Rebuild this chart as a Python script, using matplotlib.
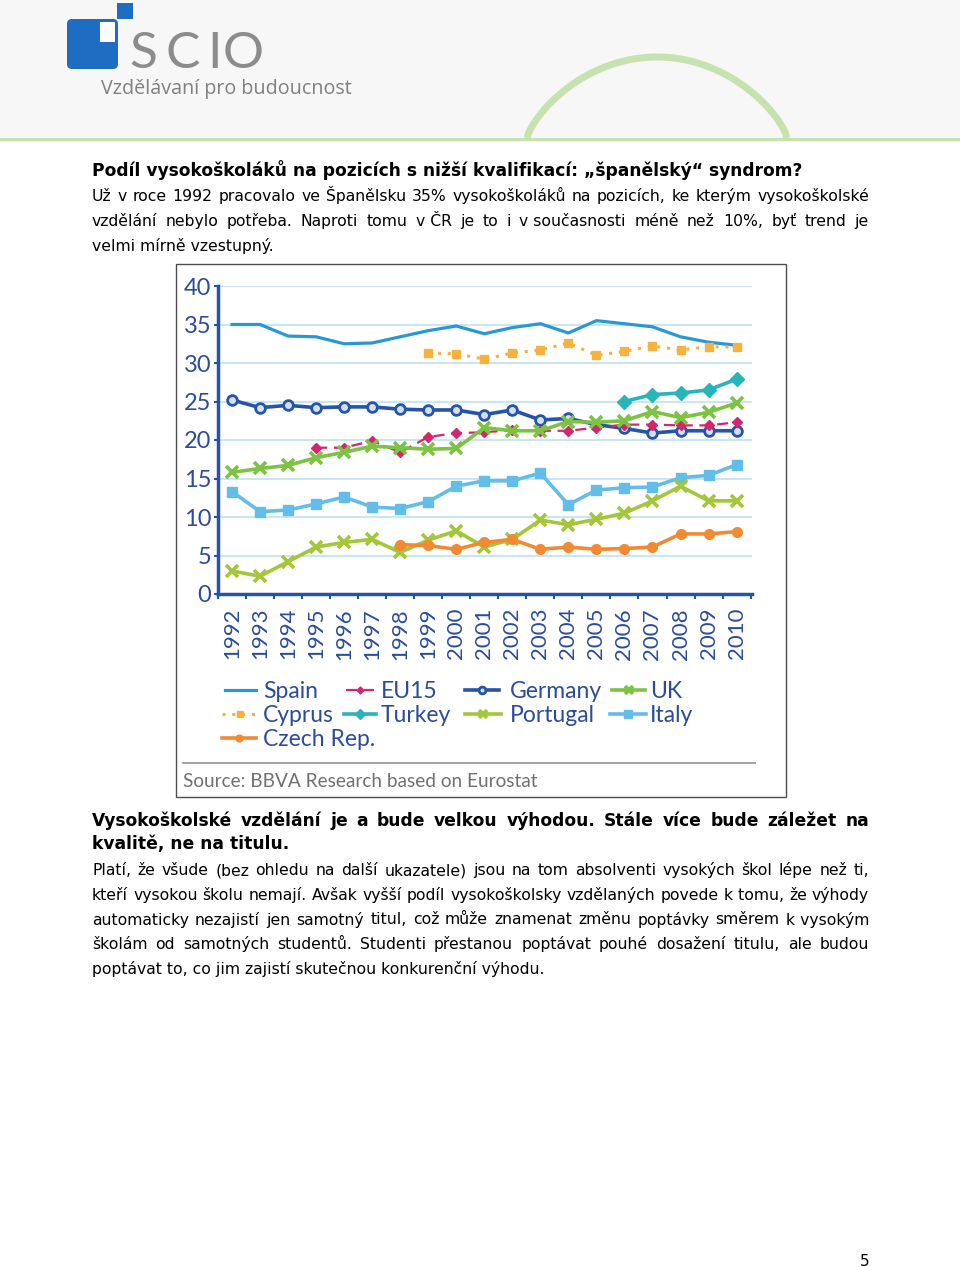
import matplotlib

matplotlib.use("Agg")
import matplotlib.pyplot as plt
import numpy as np
from matplotlib.patches import FancyBboxPatch, Rectangle

# ---- chart data (share of graduates in jobs below their qualification, %)
YEARS = list(range(1992, 2011))
YEAR_LABELS = [str(y) for y in YEARS]
Y_TICKS = [0, 5, 10, 15, 20, 25, 30, 35, 40]

SPAIN = [35.0, 35.0, 33.5, 33.4, 32.5, 32.6, 33.4, 34.2, 34.8, 33.8,
         34.6, 35.1, 33.9, 35.5, 35.1, 34.7, 33.4, 32.7, 32.3]
CYPRUS_YEARS = list(range(1999, 2011))
CYPRUS = [31.3, 31.2, 30.5, 31.3, 31.7, 32.6, 31.0, 31.5, 32.2, 31.7, 32.1, 32.1]
GERMANY = [25.2, 24.2, 24.5, 24.2, 24.3, 24.3, 24.0, 23.9, 23.9, 23.3,
           23.9, 22.6, 22.8, 22.0, 21.5, 20.9, 21.2, 21.2, 21.2]
EU15_YEARS = list(range(1995, 2011))
EU15 = [19.0, 19.0, 19.9, 18.4, 20.4, 20.9, 21.0, 21.3, 21.2, 21.2,
        21.6, 22.0, 22.0, 21.9, 21.9, 22.3]
UK = [15.8, 16.3, 16.7, 17.7, 18.4, 19.2, 19.0, 18.8, 18.9, 21.6,
      21.2, 21.2, 22.4, 22.3, 22.5, 23.7, 22.9, 23.6, 24.8]
TURKEY_YEARS = list(range(2006, 2011))
TURKEY = [25.0, 25.9, 26.1, 26.5, 27.9]
ITALY = [13.3, 10.7, 10.9, 11.7, 12.6, 11.3, 11.1, 12.0, 14.0, 14.7,
         14.7, 15.7, 11.6, 13.5, 13.8, 13.9, 15.1, 15.4, 16.8]
PORTUGAL = [3.0, 2.3, 4.2, 6.1, 6.7, 7.1, 5.4, 7.0, 8.2, 6.1,
            7.1, 9.6, 9.0, 9.7, 10.5, 12.1, 14.0, 12.1, 12.1]
CZECH_YEARS = list(range(1998, 2011))
CZECH = [6.4, 6.3, 5.8, 6.7, 7.1, 5.8, 6.1, 5.8, 5.9, 6.1, 7.8, 7.8, 8.1]

# ---- page text
TITLE = "Podíl vysokoškoláků na pozicích s nižší kvalifikací: „španělský“ syndrom?"
INTRO = [
    "Už v roce 1992 pracovalo ve Španělsku 35% vysokoškoláků na pozicích, ke kterým vysokoškolské",
    "vzdělání nebylo potřeba. Naproti tomu v\u00a0ČR je to i v\u00a0současnosti méně než 10%, byť trend je",
    "velmi mírně vzestupný.",
]
HEADING = [
    "Vysokoškolské vzdělání je a bude velkou výhodou. Stále více bude záležet na",
    "kvalitě, ne na titulu.",
]
BODY = [
    "Platí, že všude (bez ohledu na další ukazatele) jsou na tom absolventi vysokých škol lépe než ti,",
    "kteří vysokou školu nemají. Avšak vyšší podíl vysokoškolsky vzdělaných povede k\u00a0tomu, že výhody",
    "automaticky nezajistí jen samotný titul, což může znamenat změnu poptávky směrem k\u00a0vysokým",
    "školám od samotných studentů. Studenti přestanou poptávat pouhé dosažení titulu, ale budou",
    "poptávat to, co jim zajistí skutečnou konkurenční výhodu.",
]
SOURCE = "Source: BBVA Research based on Eurostat"

CHART_BLUE = "#2B4C9C"
SPINE_BLUE = "#2553A5"
GREEN_DECOR = "#C6E2AE"
LOGO_BLUE = "#1E6DC2"

STYLES = {
    "Spain": dict(color="#2A97D5", lw=2.3, ls="-", marker=None),
    "EU15": dict(color="#D4266F", lw=1.6, ls=(0, (5, 3)), marker="D", ms=5),
    "Germany": dict(color="#2654A6", lw=2.6, ls="-", marker="o", ms=7,
                    mfc="#D5DFF2", mew=2),
    "UK": dict(color="#7CC243", lw=2.6, ls="-", marker="x", ms=8, mew=2.6),
    "Cyprus": dict(color="#F5B23E", lw=2.2, ls=(0, (1, 2.2)), marker="s", ms=6),
    "Turkey": dict(color="#27B5B9", lw=2.6, ls="-", marker="D", ms=7.5),
    "Portugal": dict(color="#A4C639", lw=2.6, ls="-", marker="x", ms=8, mew=2.6),
    "Italy": dict(color="#63BDE9", lw=2.6, ls="-", marker="s", ms=7.5),
    "Czech Rep.": dict(color="#F28A33", lw=2.6, ls="-", marker="o", ms=7),
}

fig = plt.figure(figsize=(9.6, 12.67), dpi=100)

# background axes in pixel units, y growing downward
bg = fig.add_axes([0, 0, 1, 1], zorder=0)
bg.set_xlim(0, 960)
bg.set_ylim(1267, 0)
bg.axis("off")
renderer = fig.canvas.get_renderer()


def width_px(t):
    return t.get_window_extent(renderer).width


def fit_line(x0, x1, y, s, size, **kw):
    t = bg.text(x0, y, s, fontsize=size, va="baseline", **kw)
    t.set_fontsize(size * (x1 - x0) / width_px(t))
    return t.get_fontsize()


def justify_line(x0, x1, y, s, size, **kw):
    words = s.split(" ")
    texts = [bg.text(x0, y, w, fontsize=size, va="baseline", **kw) for w in words]
    widths = [width_px(t) for t in texts]
    gap = (x1 - x0 - sum(widths)) / (len(words) - 1)
    x = x0
    for t, w in zip(texts, widths):
        t.set_x(x)
        x += w + gap


# header
bg.add_patch(Rectangle((0, 0), 960, 137, color="#F7F7F7", lw=0))
bg.plot([0, 960], [138.5, 138.5], color=GREEN_DECOR, lw=2.5)
u = np.linspace(-1, 1, 160)
bg.plot(657 + 130 * u, 138 - 81 * (1 - u ** 2) ** 0.75, color=GREEN_DECOR, lw=5,
        solid_capstyle="butt")
bg.add_patch(FancyBboxPatch((67, 19), 51, 50, boxstyle="round,pad=0,rounding_size=5",
                            color=LOGO_BLUE, lw=0))
bg.add_patch(Rectangle((100, 22), 15, 20, color="white", lw=0))
bg.add_patch(Rectangle((117, 3), 16, 16, color=LOGO_BLUE, lw=0))
for letter, lx in zip("SCIO", [129, 166, 207, 223]):
    bg.text(lx, 68.5, letter, fontsize=37, family="Lato", color="#8C8C8C",
            va="baseline")
fit_line(101, 352, 94, "Vzdělávaní pro budoucnost", 13.5, family="Open Sans",
         color="#808080")

# text above the chart
bold_size = fit_line(92, 800, 176, TITLE, 12, family="DejaVu Sans", weight="bold")
tmp = bg.text(0, -100, BODY[-1], fontsize=11, family="DejaVu Sans")
body_size = 11 * 450 / width_px(tmp)
tmp.remove()

for y, line in zip([201, 226], INTRO[:2]):
    justify_line(92, 869, y, line, body_size, family="DejaVu Sans")
bg.text(92, 251, INTRO[2], fontsize=body_size, family="DejaVu Sans", va="baseline")

# chart frame, source
bg.add_patch(Rectangle((175.5, 263.5), 610, 533, fill=False, ec="#4D4D4D", lw=1))
bg.plot([183, 755], [763, 763], color="#9A9A9A", lw=1.3)
fit_line(183, 537, 787, SOURCE, 13, family="Lato", color="#707070")

# text below the chart
justify_line(92, 869, 826, HEADING[0], bold_size, family="DejaVu Sans", weight="bold")
bg.text(92, 849, HEADING[1], fontsize=bold_size, family="DejaVu Sans",
        weight="bold", va="baseline")
for i, line in enumerate(BODY):
    y = 875 + i * 24.75
    if i < len(BODY) - 1:
        justify_line(92, 869, y, line, body_size, family="DejaVu Sans")
    else:
        bg.text(92, y, line, fontsize=body_size, family="DejaVu Sans", va="baseline")
bg.text(860, 1266, "5", fontsize=11, family="DejaVu Sans", va="baseline")

# ---- the chart
ax = fig.add_axes([218 / 960, 1 - 594 / 1267, 534 / 960, 308 / 1267], zorder=1)
ax.set_facecolor("none")

series = [
    ("Spain", YEARS, SPAIN),
    ("Cyprus", CYPRUS_YEARS, CYPRUS),
    ("Germany", YEARS, GERMANY),
    ("EU15", EU15_YEARS, EU15),
    ("UK", YEARS, UK),
    ("Turkey", TURKEY_YEARS, TURKEY),
    ("Italy", YEARS, ITALY),
    ("Portugal", YEARS, PORTUGAL),
    ("Czech Rep.", CZECH_YEARS, CZECH),
]
for name, xs, ys in series:
    st = dict(STYLES[name])
    ax.plot(xs, ys, color=st.pop("color"), linewidth=st.pop("lw"),
            linestyle=st.pop("ls"), label=name, **st)

ax.set_xlim(1991.5, 2010.55)
ax.set_ylim(0, 40)
ax.set_yticks(Y_TICKS)
ax.set_yticklabels([str(v) for v in Y_TICKS], fontsize=17, family="Lato",
                   color=CHART_BLUE)
ax.set_xticks(YEARS)
ax.set_xticklabels(YEAR_LABELS, rotation=90, fontsize=16, family="Lato",
                   color=CHART_BLUE)
ax.set_xticks([y - 0.5 for y in YEARS] + [2010.5], minor=True)
ax.tick_params(axis="x", which="major", length=0, pad=10)
ax.tick_params(axis="x", which="minor", length=3.5, width=1.5, color=SPINE_BLUE)
ax.tick_params(axis="y", length=3, width=1.5, color=SPINE_BLUE, pad=2)
ax.yaxis.grid(True, color="#BFE2F2", linewidth=1.2)
ax.set_axisbelow(True)
for side in ("top", "right"):
    ax.spines[side].set_visible(False)
for side in ("left", "bottom"):
    ax.spines[side].set_color(SPINE_BLUE)
    ax.spines[side].set_linewidth(2.5)

# legend keys drawn on the page, laid out like the original
legend_rows = [
    [("Spain", 225, 256, 263), ("EU15", 346, 374, 381),
     ("Germany", 465, 499, 510), ("UK", 612, 645, 650)],
    [("Cyprus", 222, 258, 263), ("Turkey", 344, 376, 381),
     ("Portugal", 465, 501, 510), ("Italy", 610, 646, 650)],
    [("Czech Rep.", 222, 256, 263)],
]
for row_y, row in zip([690, 714, 738], legend_rows):
    for name, hx0, hx1, tx in row:
        st = dict(STYLES[name])
        color = st.pop("color")
        bg.plot([hx0, hx1], [row_y, row_y], color=color, linewidth=st.pop("lw"),
                linestyle=st.pop("ls"))
        marker = st.pop("marker")
        if marker:
            ms = st.pop("ms") * 0.7
            bg.plot([(hx0 + hx1) / 2], [row_y], color=color, marker=marker,
                    ms=ms, **st)
        bg.text(tx, row_y + 1, name, fontsize=16.5, family="Lato",
                color=CHART_BLUE, va="center")

fig.savefig("out.png", dpi=100)
plt.close(fig)
